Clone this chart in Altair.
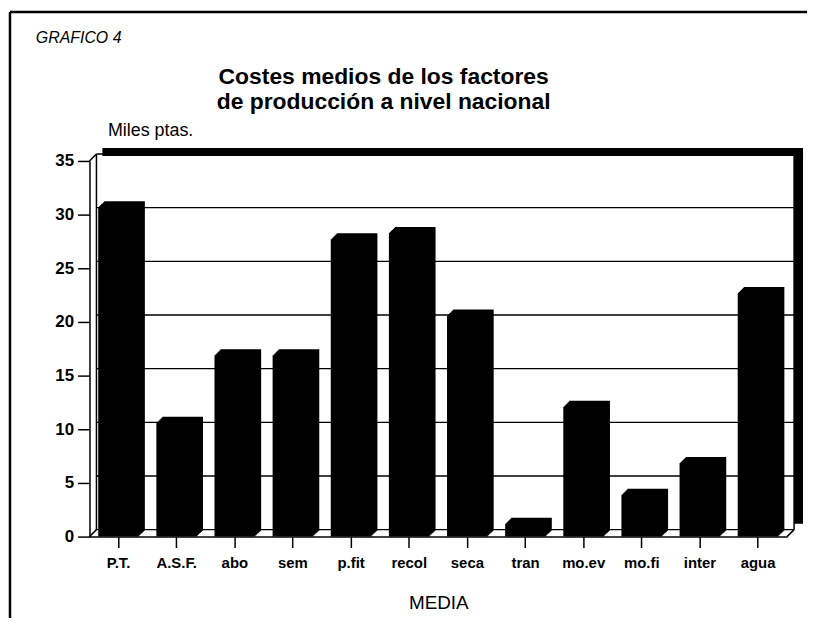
import altair as alt
import pandas as pd

# ---- data ----
categories = ["P.T.", "A.S.F.", "abo", "sem", "p.fit", "recol", "seca",
              "tran", "mo.ev", "mo.fi", "inter", "agua"]
values = [30.7, 10.6, 16.9, 16.9, 27.7, 28.3, 20.6, 1.2, 12.1, 3.9, 6.85, 22.7]
y_ticks = [0, 5, 10, 15, 20, 25, 30, 35]
grid_values = [0, 5, 10, 15, 20, 25, 30, 35]

title_lines = ["Costes medios de los factores", "de producción a nivel nacional"]
label_text = "GRAFICO 4"

# ---- layout ----
W, H = 702, 378
WALL = 7          # depth of the back wall
BAR_D = 6         # depth of the 3D bars
FONT = "Liberation Sans"

df = pd.DataFrame({"cat": categories, "val": values})
grid_df = pd.DataFrame({"val": grid_values})
one = pd.DataFrame({"k": [0]})

x_scale = alt.Scale(domain=categories, paddingInner=0.3, paddingOuter=0.15)
y_scale = alt.Scale(domain=[0, 35], nice=False)

x_axis = alt.Axis(title="MEDIA", labelAngle=0, labelFont=FONT, labelFontSize=15,
                  labelFontWeight="bold", labelColor="black", labelPadding=8,
                  tickSize=11, tickColor="black", tickWidth=1.5,
                  domainColor="black", domainWidth=1.5, grid=False,
                  titleFont=FONT, titleFontSize=19, titleFontWeight="normal",
                  titleColor="black", titleY=72, titleBaseline="alphabetic",
                  zindex=1)
y_axis = alt.Axis(values=y_ticks, title="Miles ptas.", titleAngle=0, titleX=18,
                  titleY=-26, titleAlign="left", titleBaseline="alphabetic",
                  titleFont=FONT, titleFontSize=18, titleFontWeight="normal",
                  titleColor="black", labelFont=FONT, labelFontSize=17,
                  labelFontWeight="bold", labelColor="black", labelPadding=4,
                  tickSize=12, tickColor="black", tickWidth=1.5,
                  domainColor="black", domainWidth=1.5, grid=False, zindex=1)

X = alt.X("cat:N", sort=categories, scale=x_scale, axis=x_axis)
Y = alt.Y("val:Q", scale=y_scale, axis=y_axis)

layers = []

# back wall grid lines (shifted up/right for the 3D wall)
layers.append(
    alt.Chart(grid_df).mark_rule(color="black", strokeWidth=1.3, yOffset=-WALL)
    .encode(y=Y, x=alt.value(WALL), x2=alt.value(W + WALL))
)

# wall edges
def rule(x, x2, y, y2, sw=1.5):
    return alt.Chart(one).mark_rule(color="black", strokeWidth=sw).encode(
        x=alt.value(x), x2=alt.value(x2), y=alt.value(y), y2=alt.value(y2))

layers.append(rule(WALL, WALL, -WALL, H - WALL))          # back-left edge
layers.append(rule(0, WALL, 0, -WALL))                    # top-left diagonal
layers.append(rule(0, WALL, H, H - WALL))                 # bottom-left diagonal
layers.append(rule(W, W + WALL, H, H - WALL))             # bottom-right diagonal
layers.append(rule(W + WALL, W + WALL, -WALL, H - WALL))  # back-right edge

# heavy shadow border top and right
layers.append(alt.Chart(one).mark_rect(color="black").encode(
    x=alt.value(13), x2=alt.value(W + 16), y=alt.value(-13), y2=alt.value(-5)))
layers.append(alt.Chart(one).mark_rect(color="black").encode(
    x=alt.value(W + 7), x2=alt.value(W + 16), y=alt.value(-13), y2=alt.value(H - 13)))

# 3D bars: stacked shifted copies
for k in range(BAR_D, -1, -1):
    layers.append(
        alt.Chart(df).mark_bar(color="black", xOffset=k, yOffset=-k, y2Offset=-k)
        .encode(x=X, y=Y)
    )

# outer frame (left and top)
layers.append(rule(-80, -80, -150, H + 90, sw=2.5))
layers.append(rule(-80, W + 40, -150, -150, sw=2.5))

# texts
layers.append(alt.Chart(one).mark_text(
    font=FONT, fontSize=16, fontStyle="italic", align="left",
    baseline="alphabetic", color="black").encode(
    x=alt.value(-54), y=alt.value(-119), text=alt.value(label_text)))
layers.append(alt.Chart(one).mark_text(
    font=FONT, fontSize=23, fontWeight="bold", align="center",
    baseline="alphabetic", color="black", lineHeight=25).encode(
    x=alt.value(296), y=alt.value(-77), text=alt.value(title_lines)))

chart = alt.layer(*layers).properties(
    width=W, height=H,
    autosize="none",
    padding={"left": 82, "top": 152, "right": 20, "bottom": 80},
    background="white",
).configure_view(stroke=None)

chart.save("out.html", embed_options={"renderer": "svg", "actions": False})
